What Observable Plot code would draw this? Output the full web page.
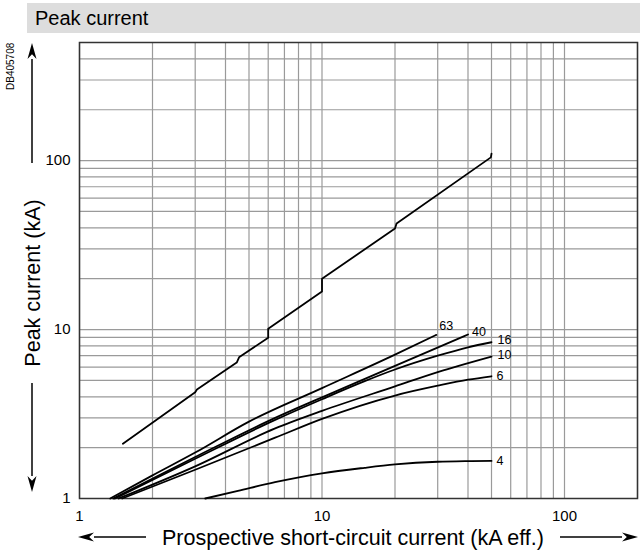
<!DOCTYPE html>
<html><head><meta charset="utf-8">
<script src="https://cdn.jsdelivr.net/npm/d3@7"></script>
<script src="https://cdn.jsdelivr.net/npm/@observablehq/plot@0.6"></script>
<style>body{margin:0;background:#fff;font-family:"Liberation Sans",Arial,sans-serif}</style>
</head><body><div id="chart"></div>
<script>
// Axis ticks and grid values
const xTicks = [1, 10, 100];
const yTicks = [1, 10, 100];
const xGrid = [1,2,3,4,5,6,7,8,9,10,20,30,40,50,60,70,80,90,100,200];
const yGrid = [1,2,3,4,5,6,7,8,9,10,20,30,40,50,60,70,80,90,100,200,300,400,500];

// Unlimited (prospective) peak curve
const peakX = [1.51, 3.0, 3.05, 4.45, 4.55, 6.0, 6.0, 10.0, 10.0, 20.0, 20.3, 49.7, 50.0];
const peakY = [2.11, 4.26, 4.42, 6.38, 6.85, 8.95, 10.1, 16.8, 20.0, 39.6, 42.4, 104.5, 110];

// Limited peak current curves by rating
const ratings = ["63", "40", "16", "10", "6", "4"];
const c63X = [1.34, 2, 3, 5, 10, 20, 29.6];
const c63Y = [1, 1.37, 1.87, 2.85, 4.5, 7.1, 9.3];
const c40X = [1.38, 3, 6.41, 10, 20, 40];
const c40Y = [1, 1.76, 3.0, 3.97, 6.1, 9.35];
const c16X = [1.40, 3, 6.41, 10, 15, 20, 30, 40, 50];
const c16Y = [1, 1.72, 2.92, 3.87, 4.95, 5.8, 7.0, 7.85, 8.41];
const c10X = [1.45, 3, 6.41, 10, 20, 30, 50];
const c10Y = [1, 1.55, 2.6, 3.3, 4.61, 5.6, 6.92];
const c6X = [1.50, 3, 6.41, 10, 20, 30, 40, 50];
const c6Y = [1, 1.48, 2.29, 2.96, 4.07, 4.65, 5.05, 5.29];
const c4X = [3.3, 4.5, 6.4, 10, 15, 20, 30, 40, 50];
const c4Y = [1, 1.11, 1.25, 1.41, 1.52, 1.59, 1.65, 1.665, 1.67];

const limitedX = [c63X, c40X, c16X, c10X, c6X, c4X];
const limitedY = [c63Y, c40Y, c16Y, c10Y, c6Y, c4Y];
const labelDx = [3, 4, 6, 6, 5, 5];
const labelDy = [-9, -2, -2, -2, 0, 0];

const peakRows = peakX.map((x, i) => ({x, y: peakY[i]}));
const limRows = [];
const labelRows = [];
ratings.forEach((r, k) => {
  limitedX[k].forEach((x, i) => limRows.push({series: r, x, y: limitedY[k][i]}));
  const n = limitedX[k].length - 1;
  labelRows.push({text: r, x: limitedX[k][n], y: limitedY[k][n], dx: labelDx[k], dy: labelDy[k]});
});

const font = "Liberation Sans, Arial, sans-serif";
const plot = Plot.plot({
  width: 640, height: 553,
  marginLeft: 79, marginRight: 3, marginTop: 42, marginBottom: 55,
  style: {fontFamily: font, background: "#fff", color: "#000"},
  x: {type: "log", domain: [1, 200]},
  y: {type: "log", domain: [1, 500]},
  marks: [
    Plot.ruleX(xGrid, {stroke: "#9a9a9a", strokeWidth: 1.2}),
    Plot.ruleY(yGrid, {stroke: "#9a9a9a", strokeWidth: 1.2}),
    Plot.frame({stroke: "#333", strokeWidth: 1.5}),
    Plot.axisX({ticks: xTicks, tickFormat: d => String(d), tickSize: 0, tickPadding: 12, fontSize: 15, label: null}),
    Plot.axisY({ticks: yTicks, tickFormat: d => String(d), tickSize: 0, tickPadding: 9, fontSize: 15, label: null}),
    Plot.line(peakRows, {x: "x", y: "y", stroke: "#000", strokeWidth: 1.8, curve: "linear"}),
    Plot.line(limRows, {x: "x", y: "y", z: "series", stroke: "#000", strokeWidth: 1.8, curve: "monotone-x"}),
    ...labelRows.map(d => Plot.text([d], {x: "x", y: "y", text: "text", dx: d.dx, dy: d.dy, textAnchor: "start", fontSize: 12.5, fill: "#000"}))
  ]
});

const svg = d3.select(plot);
svg.attr("font-family", font);
// title bar
svg.append("rect").attr("x", 27).attr("y", 3).attr("width", 613).attr("height", 30).attr("fill", "#dddddd");
svg.append("text").attr("x", 35).attr("y", 25).attr("text-anchor", "start").attr("font-size", 20).attr("fill", "#000").text("Peak current");
svg.append("text").attr("transform", "translate(14,90) rotate(-90)").attr("text-anchor", "start").attr("font-size", 10).attr("fill", "#000").text("DB405708");
// axis labels
svg.append("text").attr("transform", "translate(32,283) rotate(-90)").attr("text-anchor", "middle").attr("dy", "0.35em").attr("font-size", 21.5).attr("fill", "#000").text("Peak current (kA)");
svg.append("text").attr("x", 353).attr("y", 537).attr("text-anchor", "middle").attr("dy", "0.35em").attr("font-size", 21.5).attr("fill", "#000").text("Prospective short-circuit current (kA eff.)");
// arrows
function arrow(x1, y1, x2, y2) {
  const ang = Math.atan2(y2 - y1, x2 - x1), L = 16, W = 4.5;
  const bx = x2 - L * Math.cos(ang), by = y2 - L * Math.sin(ang);
  svg.append("line").attr("x1", x1).attr("y1", y1).attr("x2", bx).attr("y2", by).attr("stroke", "#000").attr("stroke-width", 1.5);
  const px = -Math.sin(ang) * W, py = Math.cos(ang) * W;
  svg.append("path").attr("d", `M${x2},${y2}L${bx + px},${by + py}L${bx + 0.3*L*Math.cos(ang)},${by + 0.3*L*Math.sin(ang)}L${bx - px},${by - py}Z`).attr("fill", "#000");
}
arrow(32, 163, 32, 43);
arrow(32, 383, 32, 492);
arrow(146, 537, 78, 537);
arrow(560, 537, 638, 537);

document.getElementById("chart").appendChild(plot);
</script></body></html>
